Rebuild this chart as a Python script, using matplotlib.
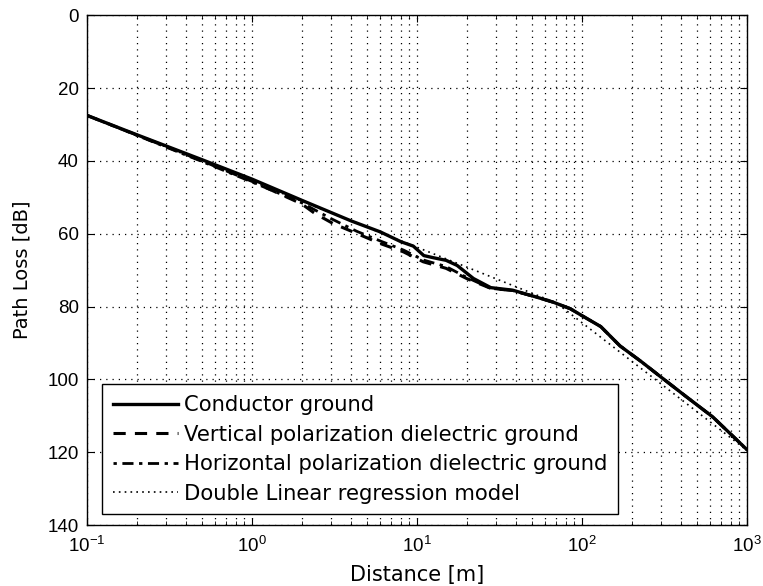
import numpy as np
import matplotlib.pyplot as plt
from matplotlib.ticker import LogLocator, NullFormatter

plt.rcParams['font.family'] = ['Liberation Sans', 'DejaVu Sans']
plt.rcParams['mathtext.fontset'] = 'custom'
plt.rcParams['mathtext.rm'] = 'Liberation Sans'

# Path loss vs distance for the different ground models
dist_cond = [0.1, 0.2, 0.5, 1, 2, 4, 6, 8, 9.5, 11, 12.6, 15, 17.5, 22, 28, 38,
             53, 67, 85, 100, 130, 170, 230, 300, 430, 620, 1000]
loss_cond = [27.5, 32.8, 39.7, 45.0, 50.8, 56.5, 59.5, 62.2, 63.4, 66.0, 66.6, 67.3,
             68.7, 72.3, 74.8, 75.5, 77.4, 78.8, 80.6, 82.5, 85.5, 90.8, 95.2, 99.3,
             104.8, 110.3, 119.3]

dist_vert = [0.1, 0.5, 1, 2, 2.4, 3.1, 4.3, 6, 8.3, 10.9, 15, 20, 28, 38, 53, 67, 85,
             100, 130, 170, 230, 300, 430, 620, 1000]
loss_vert = [27.5, 40.0, 45.6, 51.8, 54.4, 57.2, 59.9, 62.7, 65.0, 67.7, 69.5, 72.3,
             75.0, 75.6, 77.4, 78.8, 80.6, 82.5, 85.5, 90.8, 95.2, 99.3, 104.8, 110.3,
             119.3]

dist_horz = [0.1, 0.5, 1, 2, 3, 4.3, 6, 8.3, 10.9, 15, 20, 28, 38, 53, 67, 85,
             100, 130, 170, 230, 300, 430, 620, 1000]
loss_horz = [27.5, 40.2, 45.8, 51.5, 55.8, 59.3, 62.0, 64.5, 67.2, 69.0, 72.0,
             75.0, 75.6, 77.4, 78.8, 80.6, 82.5, 85.5, 90.8, 95.2, 99.3, 104.8,
             110.3, 119.3]

# two-slope regression: breakpoint around 70 m
dist_reg = [0.1, 70, 1000]
loss_reg = [27.5, 79.0, 119.5]

fig = plt.figure(figsize=(7.63, 5.86), dpi=100)
ax = fig.add_axes([0.114, 0.104, 0.865, 0.870])

ax.plot(dist_reg, loss_reg, color='black', linestyle=(0, (1, 2.5)), linewidth=1.2,
        label='Double Linear regression model', zorder=2)
ax.plot(dist_horz, loss_horz, color='black', linestyle=(0, (1.2, 2, 4, 2)),
        linewidth=2, label='Horizontal polarization dielectric ground', zorder=3)
ax.plot(dist_vert, loss_vert, color='black', linestyle=(0, (4, 3)), linewidth=2.2,
        label='Vertical polarization dielectric ground', zorder=3)
ax.plot(dist_cond, loss_cond, color='black', linestyle='-', linewidth=2.4,
        label='Conductor ground', zorder=4)

ax.set_xscale('log')
ax.set_xlim(0.1, 1000)
ax.set_ylim(140, 0)
ax.set_yticks(np.arange(0, 141, 20))
ax.xaxis.set_major_locator(LogLocator(base=10, numticks=10))
ax.xaxis.set_minor_locator(LogLocator(base=10, subs=np.arange(2, 10), numticks=20))
ax.xaxis.set_minor_formatter(NullFormatter())

ax.grid(True, which='major', linestyle=(0, (1, 4)), color='black', linewidth=0.9)
ax.grid(True, which='minor', axis='x', linestyle=(0, (1, 4)), color='black', linewidth=0.9)

ax.tick_params(which='both', direction='in', top=True, right=True, labelsize=13.5)
ax.tick_params(which='major', length=5)
ax.tick_params(which='minor', length=3)
ax.tick_params(axis='x', which='major', pad=8)
ax.tick_params(axis='y', which='major', pad=6)
for s in ax.spines.values():
    s.set_linewidth(1.0)

ax.set_xlabel('Distance [m]', family='DejaVu Sans', fontsize=15, labelpad=6)
ax.set_ylabel('Path Loss [dB]', family='DejaVu Sans', fontsize=14, labelpad=11)

handles, labels = ax.get_legend_handles_labels()
leg = ax.legend(handles[::-1], labels[::-1], loc='lower left',
                bbox_to_anchor=(15 / 660, 11 / 510), borderaxespad=0,
                prop={'family': 'DejaVu Sans', 'size': 15.2},
                frameon=True, fancybox=False, edgecolor='black', framealpha=1,
                handlelength=3.1, borderpad=0.5, labelspacing=0.45,
                handletextpad=0.3)
leg.get_frame().set_linewidth(1.0)

fig.savefig('out.png', dpi=100)
